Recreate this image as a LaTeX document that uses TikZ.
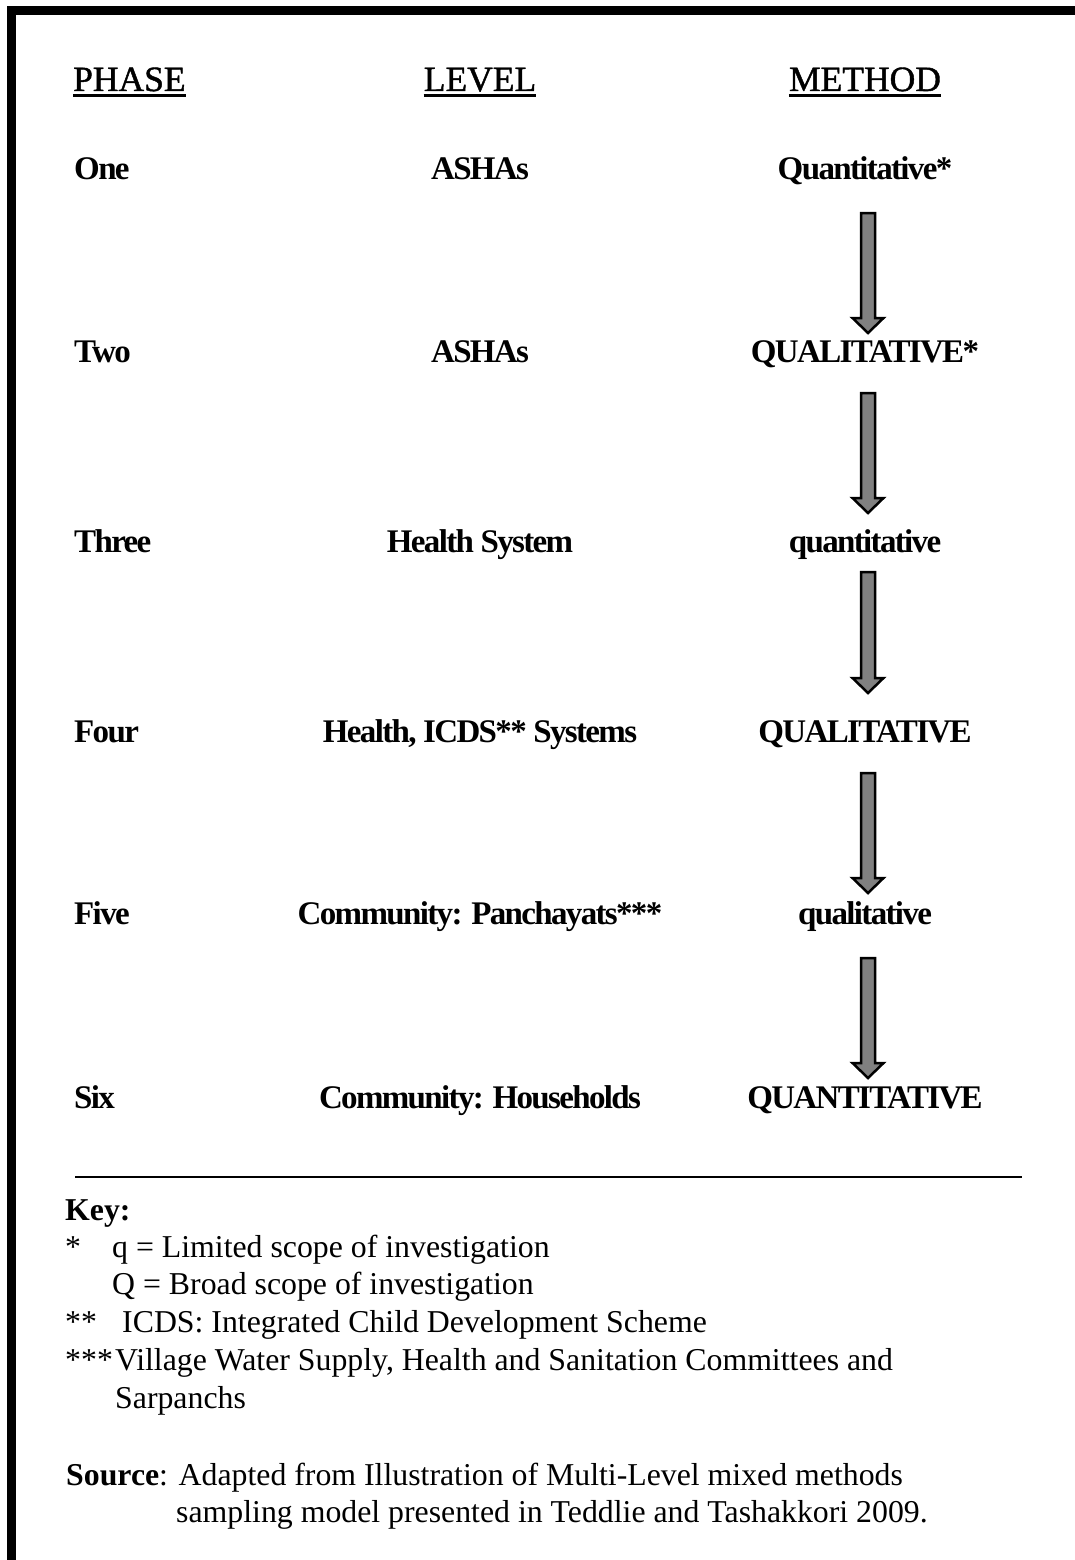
\documentclass[tikz,border=0pt]{standalone}
\usepackage{fontspec}
\setmainfont{Liberation Serif}
\newfontfamily\rowfont[LetterSpace=-5]{Liberation Serif}
\newfontfamily\hdrfont[FakeBold=1.2]{Liberation Serif}
\usetikzlibrary{calc}
\tikzset{
  hdr/.style={inner sep=0pt, anchor=base, font=\hdrfont\fontsize{35.5}{42}\selectfont},
  rowtxt/.style={inner sep=0pt, font=\rowfont\fontsize{33}{40}\selectfont\bfseries},
  keytxt/.style={inner sep=0pt, anchor=base west, font=\fontsize{31.8}{38}\selectfont},
  fatarrow/.style={draw=black, fill=black!50, line width=2.5pt, line join=miter},
  uline/.style={line width=2.5pt},
}
\newcommand{\fatarrowdraw}[2]{%
  \draw[fatarrow] ($(#1)+(-7,0)$) -- ($(#2)+(-7,-15)$) -- ($(#2)+(-15.5,-15)$)
    -- (#2) -- ($(#2)+(15.5,-15)$) -- ($(#2)+(7,-15)$) -- ($(#1)+(7,0)$) -- cycle;}
\begin{document}
\begin{tikzpicture}[x=1pt,y=-1pt]
\useasboundingbox (0,0) rectangle (1075,1560);
% frame
\fill (7,6) rectangle (1075,15);
\fill (7,6) rectangle (16,1560);
% headers
\node[hdr, anchor=base west] (h1) at (73,91) {PHASE};
\node[hdr] (h2) at (480,91) {LEVEL};
\node[hdr] (h3) at (865,91) {METHOD};
\foreach \h in {h1,h2,h3}{
  \draw[uline] ([yshift=-4.5pt]\h.base west) -- ([yshift=-4.5pt]\h.base east);}
% rows
\foreach \i/\y/\p/\l/\m in {
  1/179/One/ASHAs/Quantitative*,
  2/362/Two/ASHAs/QUALITATIVE*,
  3/552/Three/Health System/quantitative,
  4/742/Four/{Health, ICDS** Systems}/QUALITATIVE,
  5/924/Five/{Community: Panchayats***}/qualitative,
  6/1108/Six/{Community: Households}/QUANTITATIVE}{
  \node[rowtxt, anchor=base west] (p\i) at (74,\y) {\p};
  \node[rowtxt, anchor=base] (l\i) at (480,\y) {\l};
  \node[rowtxt, anchor=base] (m\i) at (865,\y) {\m};
}
% arrows
\coordinate (a1s) at (868,213); \coordinate (a1e) at (868,333);
\coordinate (a2s) at (868,393); \coordinate (a2e) at (868,513);
\coordinate (a3s) at (868,572); \coordinate (a3e) at (868,693);
\coordinate (a4s) at (868,773); \coordinate (a4e) at (868,893);
\coordinate (a5s) at (868,958); \coordinate (a5e) at (868,1078);
\fatarrowdraw{a1s}{a1e}
\fatarrowdraw{a2s}{a2e}
\fatarrowdraw{a3s}{a3e}
\fatarrowdraw{a4s}{a4e}
\fatarrowdraw{a5s}{a5e}
% separator
\coordinate (sepL) at (75,1177);
\coordinate (sepR) at (1022,1177);
\draw[line width=2pt] (sepL) -- (sepR);
% key
\node[keytxt] (key) at (65,1220) {\bfseries Key:};
\node[keytxt] (k1s) at (65,1257) {*};
\node[keytxt] (k1) at (112,1257) {q = Limited scope of investigation};
\node[keytxt] (k2) at (112,1294) {Q = Broad scope of investigation};
\node[keytxt] (k3s) at (65,1332) {**};
\node[keytxt] (k3) at (122,1332) {ICDS: Integrated Child Development Scheme};
\node[keytxt] (k4s) at (65,1370) {***};
\node[keytxt] (k4) at (115,1370) {Village Water Supply, Health and Sanitation Committees and};
\node[keytxt] (k5) at (115,1408) {Sarpanchs};
\node[keytxt] (src) at (66,1485) {\textbf{Source}: Adapted from Illustration of Multi-Level mixed methods};
\node[keytxt] (src2) at (176,1522) {sampling model presented in Teddlie and Tashakkori 2009.};
\end{tikzpicture}
\end{document}
